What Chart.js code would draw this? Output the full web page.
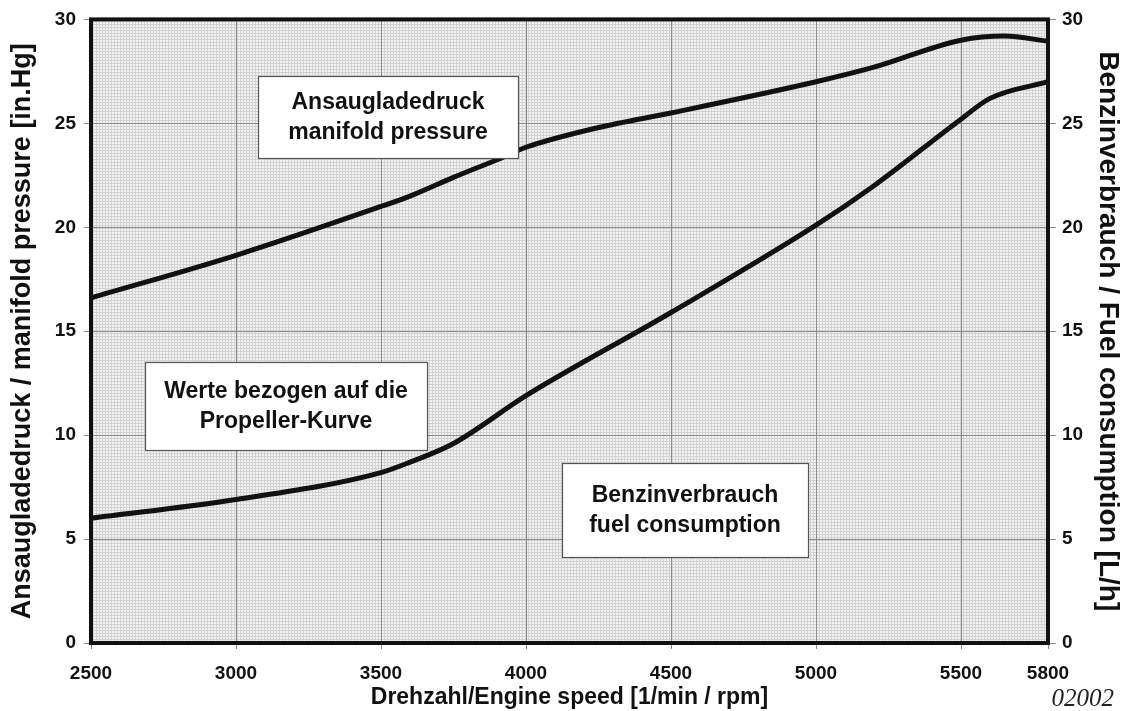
<!DOCTYPE html>
<html>
<head>
<meta charset="utf-8">
<script src="https://cdn.jsdelivr.net/npm/chart.js@4"></script>
<style>
html,body{margin:0;padding:0;background:#fff;}
#wrap{width:1128px;height:711px;position:relative;}
</style>
</head>
<body>
<div id="wrap"><canvas id="c" width="1128" height="711"></canvas></div>
<script>
const rpm = [2500, 3000, 3500, 3600, 3750, 3900, 4000, 4250, 4500, 5000, 5200, 5500, 5650, 5800];
const manifoldPressure = [16.6, 18.65, 21.0, 21.5, 22.4, 23.25, 23.85, 24.8, 25.5, 27.0, 27.7, 29.0, 29.2, 28.95];
const fuelRpm = [2500, 3000, 3500, 3600, 3750, 4000, 4500, 5000, 5200, 5500, 5600, 5800];
const fuelConsumption = [6.0, 6.9, 8.2, 8.7, 9.6, 11.9, 15.9, 20.1, 22.0, 25.2, 26.2, 27.0];
const xTicks = [2500, 3000, 3500, 4000, 4500, 5000, 5500, 5800];
const yTicks = [0, 5, 10, 15, 20, 25, 30];
const notes = [
  {lines: ['Ansaugladedruck', 'manifold pressure']},
  {lines: ['Werte bezogen auf die', 'Propeller-Kurve']},
  {lines: ['Benzinverbrauch', 'fuel consumption']}
];
const noteBoxes = [[258, 76, 518, 158], [145, 362, 427, 450], [562, 463, 808, 557]];

const FONT = '"Liberation Sans", Arial, sans-serif';

function makePattern(ctx) {
  const p = document.createElement('canvas');
  p.width = 3; p.height = 3;
  const g = p.getContext('2d');
  g.fillStyle = '#f2f2f2'; g.fillRect(0, 0, 3, 3);
  g.fillStyle = '#d2d2d2';
  g.fillRect(0, 0, 3, 1);
  g.fillRect(0, 0, 1, 3);
  return ctx.createPattern(p, 'repeat');
}

const bgPlugin = {
  id: 'bg',
  beforeDraw(chart) {
    const {ctx, chartArea: a} = chart;
    ctx.save();
    ctx.fillStyle = makePattern(ctx);
    ctx.fillRect(a.left, a.top, a.right - a.left, a.bottom - a.top);
    ctx.restore();
  },
  afterDatasetsDraw(chart) {
    const {ctx, chartArea: a} = chart;
    ctx.save();
    notes.forEach((n, i) => {
      const [x1, y1, x2, y2] = noteBoxes[i];
      ctx.fillStyle = '#fff';
      ctx.fillRect(x1, y1, x2 - x1, y2 - y1);
      ctx.strokeStyle = '#555';
      ctx.lineWidth = 1.2;
      ctx.strokeRect(x1 + 0.5, y1 + 0.5, x2 - x1, y2 - y1);
      ctx.fillStyle = '#111';
      ctx.font = 'bold 23px ' + FONT;
      ctx.textAlign = 'center';
      ctx.textBaseline = 'middle';
      const cx = (x1 + x2) / 2, cy = (y1 + y2) / 2;
      ctx.fillText(n.lines[0], cx, cy - 14);
      ctx.fillText(n.lines[1], cx, cy + 16);
    });
    ctx.strokeStyle = '#111';
    ctx.lineWidth = 4;
    ctx.strokeRect(a.left, a.top, a.right - a.left, a.bottom - a.top);
    ctx.fillStyle = '#222';
    ctx.font = 'italic 25px "Liberation Serif", "Times New Roman", serif';
    ctx.textAlign = 'right';
    ctx.textBaseline = 'middle';
    ctx.fillText('02002', 1114, 699);
    ctx.restore();
  }
};

const tickFont = {family: FONT, size: 19, weight: 'bold'};

new Chart(document.getElementById('c'), {
  type: 'line',
  data: {
    datasets: [
      {
        label: 'manifold pressure',
        data: rpm.map((r, i) => ({x: r, y: manifoldPressure[i]})),
        yAxisID: 'y',
        borderColor: '#111',
        borderWidth: 5,
        pointRadius: 0,
        cubicInterpolationMode: 'monotone',
        fill: false
      },
      {
        label: 'fuel consumption',
        data: fuelRpm.map((r, i) => ({x: r, y: fuelConsumption[i]})),
        yAxisID: 'y2',
        borderColor: '#111',
        borderWidth: 5,
        pointRadius: 0,
        cubicInterpolationMode: 'monotone',
        fill: false
      }
    ]
  },
  options: {
    responsive: false,
    animation: false,
    events: [],
    layout: {padding: {top: 19, left: 0, right: 0, bottom: 0}},
    plugins: {legend: {display: false}, tooltip: {enabled: false}},
    scales: {
      x: {
        type: 'linear',
        min: 2500, max: 5800,
        afterBuildTicks(s) { s.ticks = xTicks.map(v => ({value: v})); },
        afterFit(s) { s.height = 68; },
        grid: {color: '#8a8a8a', lineWidth: 1, tickLength: 6, drawTicks: true},
        border: {display: false},
        ticks: {color: '#111', font: tickFont, padding: 13, maxRotation: 0, autoSkip: false,
          callback: v => String(v)},
        title: {display: true, text: 'Drehzahl/Engine speed [1/min / rpm]', color: '#111',
          font: {family: FONT, size: 23, weight: 'bold'}, padding: {top: 0, bottom: 0}}
      },
      y: {
        position: 'left',
        min: 0, max: 30,
        afterBuildTicks(s) { s.ticks = yTicks.map(v => ({value: v})); },
        afterFit(s) { s.width = 91; },
        grid: {color: '#8a8a8a', lineWidth: 1, tickLength: 7},
        border: {display: false},
        ticks: {color: '#111', font: tickFont, padding: 8},
        title: {display: true, text: 'Ansaugladedruck / manifold pressure [in.Hg]', color: '#111',
          font: {family: FONT, size: 27, weight: 'bold'}, padding: {top: 6, bottom: 0}}
      },
      y2: {
        position: 'right',
        min: 0, max: 30,
        afterBuildTicks(s) { s.ticks = yTicks.map(v => ({value: v})); },
        afterFit(s) { s.width = 80; },
        grid: {drawOnChartArea: false, color: '#8a8a8a', tickLength: 8},
        border: {display: false},
        ticks: {color: '#111', font: tickFont, padding: 6},
        title: {display: true, text: 'Benzinverbrauch / Fuel consumption [L/h]', color: '#111',
          font: {family: FONT, size: 28, weight: 'bold'}, padding: {top: 3, bottom: 3}}
      }
    }
  },
  plugins: [bgPlugin]
});
</script>
</body>
</html>
